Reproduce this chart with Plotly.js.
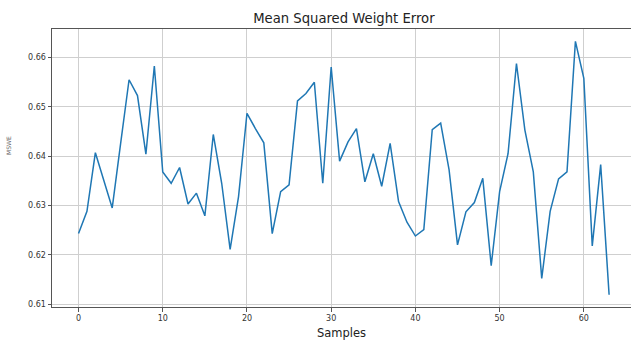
<!DOCTYPE html>
<html>
<head>
<meta charset="utf-8">
<script src="https://cdn.plot.ly/plotly-3.0.1.min.js"></script>
<style>html,body{margin:0;padding:0;background:#fff;}#chart{width:631px;height:340px;}</style>
</head>
<body>
<div id="chart"></div>
<script>
const samples = [];
for (let i = 0; i < 64; i++) samples.push(i);
const mswe = [
  0.6243, 0.6288, 0.6407, 0.6353, 0.6295, 0.6426, 0.6555, 0.6523, 0.6404, 0.6583,
  0.6368, 0.6345, 0.6377, 0.6303, 0.6325, 0.6279, 0.6444, 0.6345, 0.6211, 0.6318,
  0.6487, 0.6456, 0.6427, 0.6243, 0.6328, 0.6342, 0.6512, 0.6527, 0.6550, 0.6345,
  0.6581, 0.6390, 0.6429, 0.6456, 0.6348, 0.6405, 0.6339, 0.6426, 0.6308, 0.6266,
  0.6238, 0.6251, 0.6454, 0.6467, 0.6372, 0.6220, 0.6287, 0.6306, 0.6355, 0.6178,
  0.6328, 0.6405, 0.6588, 0.6453, 0.6368, 0.6152, 0.6288, 0.6354, 0.6368, 0.6633,
  0.6558, 0.6218, 0.6383, 0.6119
];
const xTicks = [0, 10, 20, 30, 40, 50, 60];
const yTicks = [0.61, 0.62, 0.63, 0.64, 0.65, 0.66];
const yTickText = ['0.61', '0.62', '0.63', '0.64', '0.65', '0.66'];

const trace = {
  x: samples, y: mswe, type: 'scatter', mode: 'lines',
  line: {color: '#1f77b4', width: 1.5}, hoverinfo: 'none'
};
const fam = 'DejaVu Sans, sans-serif';
const layout = {
  width: 631, height: 340,
  margin: {l: 52, r: 0, t: 29, b: 33, pad: 0},
  paper_bgcolor: '#fff', plot_bgcolor: '#fff',
  showlegend: false,
  font: {family: fam, color: '#222'},
  title: {text: 'Mean Squared Weight Error', font: {family: fam, size: 13.2, color: '#222'}, x: 0.545, xanchor: 'center', y: 0.945, yanchor: 'middle'},
  xaxis: {
    range: [-3.15, 65.6], tickvals: xTicks, ticktext: xTicks.map(String),
    showgrid: true, gridcolor: '#cfcfcf', gridwidth: 1, zeroline: false,
    showline: true, linecolor: '#555', linewidth: 1, mirror: true,
    ticks: 'outside', ticklen: 3.5, tickcolor: '#555', tickwidth: 1,
    tickfont: {family: fam, size: 8, color: '#333'},
    title: {text: 'Samples', font: {family: fam, size: 11.5, color: '#222'}, standoff: 8}
  },
  yaxis: {
    range: [0.6094, 0.6658], tickvals: yTicks, ticktext: yTickText,
    showgrid: true, gridcolor: '#cfcfcf', gridwidth: 1, zeroline: false,
    showline: true, linecolor: '#555', linewidth: 1, mirror: true,
    ticks: 'outside', ticklen: 3.5, tickcolor: '#555', tickwidth: 1,
    tickfont: {family: fam, size: 8, color: '#333'}
  },
  annotations: [{
    text: 'MSWE', xref: 'paper', yref: 'paper', x: -0.074, y: 0.58,
    xanchor: 'center', yanchor: 'middle', textangle: -90, showarrow: false,
    font: {family: fam, size: 6, color: '#666'}
  }]
};
Plotly.newPlot('chart', [trace], layout, {staticPlot: true, displayModeBar: false});
</script>
</body>
</html>
